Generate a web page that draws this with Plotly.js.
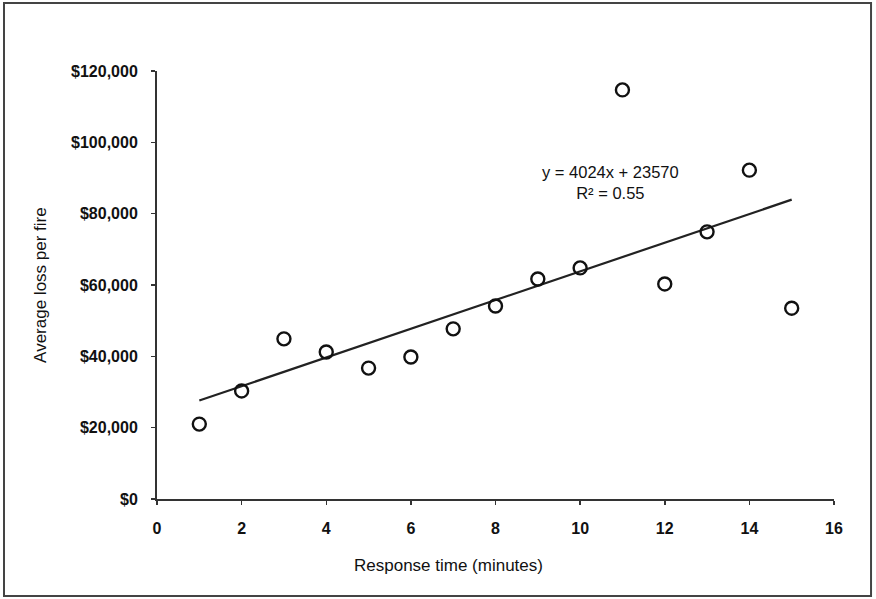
<!DOCTYPE html>
<html>
<head>
<meta charset="utf-8">
<script src="https://cdn.plot.ly/plotly-3.0.1.min.js"></script>
<style>html,body{margin:0;padding:0;background:#fff;}#chart{width:876px;height:599px;}</style>
</head>
<body>
<div id="chart"></div>
<script>
const responseMinutes = [1,2,3,4,5,6,7,8,9,10,11,12,13,14,15];
const avgLoss = [21000,30300,44900,41200,36700,39800,47700,54100,61700,64800,114700,60300,74900,92200,53500];
const trendSlope = 4024;
const trendIntercept = 23570;
const trendX = [1, 15];
const xTicks = [0,2,4,6,8,10,12,14,16];
const yTicks = [0,20000,40000,60000,80000,100000,120000];
const yTickText = ['$0','$20,000','$40,000','$60,000','$80,000','$100,000','$120,000'];

const font = 'Liberation Sans, Arial, sans-serif';

const traces = [
  {
    x: trendX,
    y: trendX.map(v => trendSlope * v + trendIntercept),
    mode: 'lines',
    line: {color: '#222', width: 2.2},
    hoverinfo: 'skip',
    showlegend: false
  },
  {
    x: responseMinutes,
    y: avgLoss,
    mode: 'markers',
    marker: {symbol: 'circle-open', size: 13, color: '#111', line: {width: 2.4, color: '#111'}},
    showlegend: false
  }
];

const layout = {
  width: 876, height: 599,
  margin: {l: 157, r: 42, t: 71, b: 100},
  paper_bgcolor: '#fff', plot_bgcolor: '#fff',
  font: {family: font, color: '#111'},
  xaxis: {
    range: [0, 16], tickvals: xTicks, ticktext: xTicks.map(String),
    showgrid: false, zeroline: false, showline: true, linecolor: '#333', linewidth: 2,
    ticks: 'outside', ticklen: 4, tickcolor: '#333', tickwidth: 1.5,
    tickfont: {family: font, size: 16, weight: 'bold', color: '#111'},
    ticklabelstandoff: 10
  },
  yaxis: {
    range: [0, 120000], tickvals: yTicks, ticktext: yTickText,
    showgrid: false, zeroline: false, showline: true, linecolor: '#333', linewidth: 2,
    ticks: 'outside', ticklen: 4, tickcolor: '#333', tickwidth: 1.5,
    tickfont: {family: font, size: 16, weight: 'bold', color: '#111'},
    ticklabelstandoff: 10
  },
  annotations: [
    {xref: 'paper', yref: 'paper', x: 0.43, y: -0.155, xanchor: 'center', yanchor: 'middle',
     text: 'Response time (minutes)', showarrow: false, font: {family: font, size: 17, color: '#111'}},
    {xref: 'paper', yref: 'paper', x: -0.173, y: 0.5, xanchor: 'center', yanchor: 'middle', textangle: -90,
     text: 'Average loss per fire', showarrow: false, font: {family: font, size: 17, color: '#111'}},
    {xref: 'x', yref: 'y', x: 10.72, y: 88600, xanchor: 'center', yanchor: 'middle',
     text: 'y = 4024x + 23570<br>R² = 0.55', showarrow: false, align: 'center',
     font: {family: font, size: 16.5, color: '#111'}}
  ],
  shapes: [
    {type: 'rect', xref: 'paper', yref: 'paper', x0: -0.226, x1: 1.0547, y0: -0.2266, y1: 1.159,
     line: {color: '#444', width: 2}, fillcolor: 'rgba(0,0,0,0)'}
  ]
};

Plotly.newPlot('chart', traces, layout, {displayModeBar: false, staticPlot: true});
</script>
</body>
</html>
